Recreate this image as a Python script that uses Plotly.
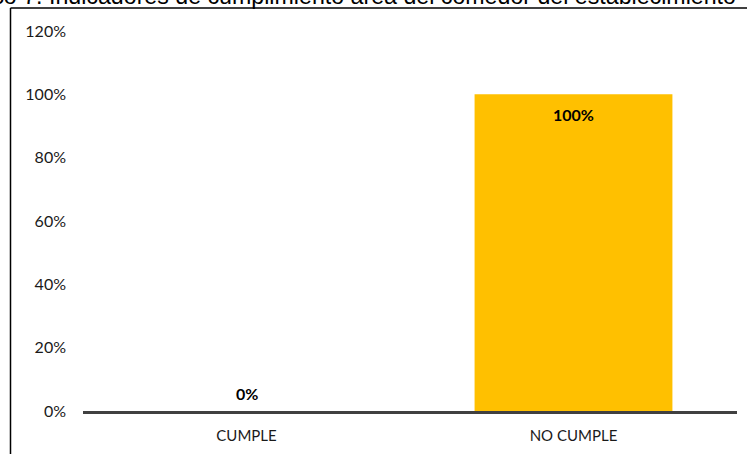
import plotly.graph_objects as go

# Compliance indicators for the dining area
categories = ["CUMPLE", "NO CUMPLE"]
values = [0.0, 1.0]
y_ticks = [0, 0.2, 0.4, 0.6, 0.8, 1.0, 1.2]
y_tick_labels = ["0%", "20%", "40%", "60%", "80%", "100%", "120%"]
title_text = "Gráfico 7. Indicadores de cumplimiento área del comedor del establecimiento"

W, H = 747, 454
M_L, M_R, M_T, M_B = 83, 10, 31, 43
plot_w = W - M_L - M_R
plot_h = H - M_T - M_B


def px_x(px):
    return (px - M_L) / plot_w


def px_y(py):
    return (H - M_B - py) / plot_h


fig = go.Figure()
fig.add_trace(go.Bar(
    x=categories,
    y=values,
    marker=dict(color="#FFC000", line=dict(width=0)),
    hoverinfo="skip",
))

# value labels: inside the top of tall bars, just above the axis for empty ones
annotations = []
for cat, v in zip(categories, values):
    inside = v > 0.1
    annotations.append(dict(
        x=cat, y=v, xref="x", yref="y",
        text=f"<b>{v:.0%}</b>",
        showarrow=False,
        yanchor="middle",
        yshift=-20 if inside else 18,
        font=dict(family="Lato", size=16, color="#000000"),
    ))

annotations.append(dict(
    x=px_x(738), y=px_y(-4), xref="paper", yref="paper",
    xanchor="right", yanchor="middle",
    text=title_text, showarrow=False,
    font=dict(family="Liberation Sans", size=23.2, color="#000000"),
))

fig.update_layout(
    width=W, height=H,
    margin=dict(l=M_L, r=M_R, t=M_T, b=M_B, pad=0),
    paper_bgcolor="#FFFFFF",
    plot_bgcolor="#FFFFFF",
    showlegend=False,
    bargap=0.395,
    annotations=annotations,
    shapes=[
        # outer frame: left and top edges
        dict(type="line", xref="paper", yref="paper",
             x0=px_x(10.5), x1=px_x(10.5), y0=px_y(8), y1=px_y(470),
             line=dict(color="#000000", width=1.5)),
        dict(type="line", xref="paper", yref="paper",
             x0=px_x(10.5), x1=px_x(760), y0=px_y(8), y1=px_y(8),
             line=dict(color="#000000", width=1.5)),
    ],
    xaxis=dict(
        showline=True, linecolor="#404040", linewidth=2.5,
        showgrid=False, zeroline=False, ticks="",
        tickfont=dict(family="Lato", size=15, color="#1a1a1a"),
        ticklabelstandoff=9,
    ),
    yaxis=dict(
        range=[0, 1.2],
        tickvals=y_ticks, ticktext=y_tick_labels,
        showline=False, showgrid=False, zeroline=False, ticks="",
        tickfont=dict(family="Lato", size=16, color="#1a1a1a"),
        ticklabelstandoff=16,
    ),
)

fig.write_html("out.html")
